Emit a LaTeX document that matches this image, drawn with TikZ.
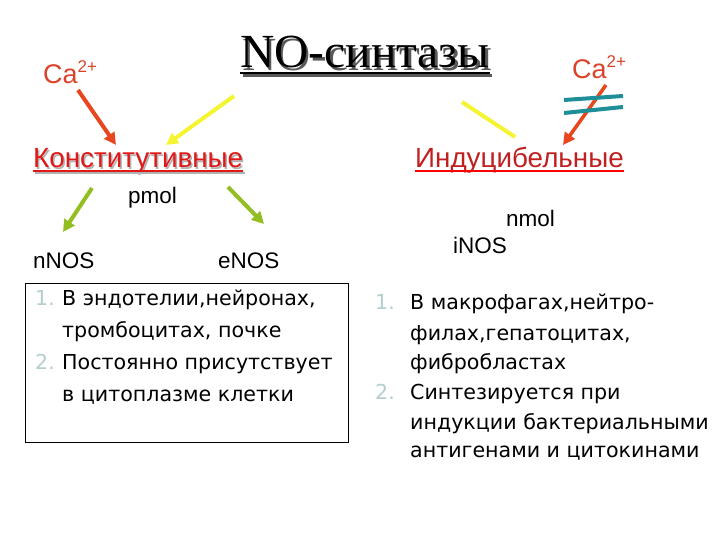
\documentclass[tikz,border=0pt]{standalone}
\usepackage{fontspec}
\setmainfont{Liberation Sans}
\newfontfamily\titlefont{Liberation Serif}
\newfontfamily\listfont{DejaVu Sans}
\usetikzlibrary{arrows.meta,calc}
\definecolor{caRed}{HTML}{D8432A}
\definecolor{arrRed}{HTML}{E8461E}
\definecolor{konRed}{HTML}{E01818}
\definecolor{indRed}{HTML}{C02020}
\definecolor{yel}{HTML}{F4F430}
\definecolor{grn}{HTML}{92BE22}
\definecolor{teal1}{HTML}{1E8E98}
\definecolor{numc}{HTML}{B4CECE}
\tikzset{
  lbl/.style={inner sep=0pt, anchor=base west},
  fatarrow/.style={line width=4pt, -{Triangle[length=12pt,width=12pt]}},
  ltxt/.style={inner sep=0pt, anchor=base west, font=\listfont\fontsize{20.6}{22}\selectfont},
  lnum/.style={ltxt, text=numc},
}
\newcommand{\caion}{Ca\raisebox{0.42em}{\fontsize{17}{17}\selectfont 2+}}
\begin{document}
\begin{tikzpicture}[x=1pt,y=-1pt]
\useasboundingbox (0,0) rectangle (720,540);
% title
\node[lbl, text=black!65, font=\titlefont\fontsize{47.5}{50}\selectfont] at (242.5,70.5) {NO-синтазы};
\node[lbl, font=\titlefont\fontsize{47.5}{50}\selectfont] (title) at (240,68) {NO-синтазы};
\draw[black!65, line width=2.5pt] ($(title.base west)+(2.5,7.5)$) -- ($(title.base east)+(2.5,7.5)$);
\draw[black, line width=2.5pt] ($(title.base west)+(0,5)$) -- ($(title.base east)+(0,5)$);
% Ca ions
\node[lbl, text=caRed, font=\fontsize{27}{30}\selectfont] (caL) at (43,84) {\caion};
\node[lbl, text=caRed, font=\fontsize{27}{30}\selectfont] (caR) at (572,79) {\caion};
% Konstitutivnye
\node[lbl, text=black!30, font=\fontsize{27.8}{30}\selectfont] at (34.5,169.5) {Конститутивные};
\node[lbl, text=konRed, font=\fontsize{27.8}{30}\selectfont] (kon) at (33,168) {Конститутивные};
\draw[black!30, line width=2pt] ($(kon.base west)+(1.5,5)$) -- ($(kon.base east)+(1.5,5)$);
\draw[konRed, line width=2pt] ($(kon.base west)+(0,3.5)$) -- ($(kon.base east)+(0,3.5)$);
% Inducibelnye
\node[lbl, text=indRed, font=\fontsize{27.8}{30}\selectfont] (ind) at (415,168) {Индуцибельные};
\draw[red, line width=2pt] ($(ind.base west)+(0,3.5)$) -- ($(ind.base east)+(0,3.5)$);
% small labels
\node[lbl, font=\fontsize{22.5}{24}\selectfont] (pmol) at (128,204) {pmol};
\node[lbl, font=\fontsize{22.5}{24}\selectfont] (nmol) at (506,226) {nmol};
\node[lbl, font=\fontsize{22.5}{24}\selectfont] (nnos) at (33,268) {nNOS};
\node[lbl, font=\fontsize{22.5}{24}\selectfont] (enos) at (218,268) {eNOS};
\node[lbl, font=\fontsize{22.5}{24}\selectfont] (inos) at (453,253) {iNOS};
% arrow end points
\coordinate (a1s) at (78,90);   \coordinate (a1e) at (116,145);
\coordinate (a2s) at (234,96);  \coordinate (a2e) at (166,145);
\coordinate (a3s) at (462,102); \coordinate (a3e) at (515,137);
\coordinate (a4s) at (606,85);  \coordinate (a4e) at (563,145);
\coordinate (g1s) at (92,188);  \coordinate (g1e) at (63,232);
\coordinate (g2s) at (228,187); \coordinate (g2e) at (264,224);
\coordinate (t1s) at (564,100); \coordinate (t1e) at (623,96);
\coordinate (t2s) at (564,113); \coordinate (t2e) at (623,107);
\draw[fatarrow, arrRed] (a1s) -- (a1e);
\draw[fatarrow, yel] (a2s) -- (a2e);
\draw[line width=4pt, yel] (a3s) -- (a3e);
\draw[fatarrow, arrRed, line width=3.5pt] (a4s) -- (a4e);
\draw[teal1, line width=4pt] (t1s) -- (t1e);
\draw[teal1, line width=4pt] (t2s) -- (t2e);
\draw[fatarrow, grn] (g1s) -- (g1e);
\draw[fatarrow, grn] (g2s) -- (g2e);
% left box
\node[draw=black, line width=0.8pt, minimum width=323pt, minimum height=159pt, anchor=north west, inner sep=0pt] (boxL) at (25,283) {};
\node[lnum] at (35,305) {1.};
\node[ltxt] at (62,305) {В эндотелии,нейронах,};
\node[ltxt] at (62,337) {тромбоцитах, почке};
\node[lnum] at (35,369) {2.};
\node[ltxt] at (62,369) {Постоянно присутствует};
\node[ltxt] at (62,401) {в цитоплазме клетки};
% right list
\node[lnum] at (375,309) {1.};
\node[ltxt] at (410,309) {В макрофагах,нейтро-};
\node[ltxt] at (410,340) {филах,гепатоцитах,};
\node[ltxt] at (410,369) {фибробластах};
\node[lnum] at (375,399) {2.};
\node[ltxt] at (410,399) {Синтезируется при};
\node[ltxt] at (410,429) {индукции бактериальными};
\node[ltxt] at (410,457) {антигенами и цитокинами};
\end{tikzpicture}
\end{document}
